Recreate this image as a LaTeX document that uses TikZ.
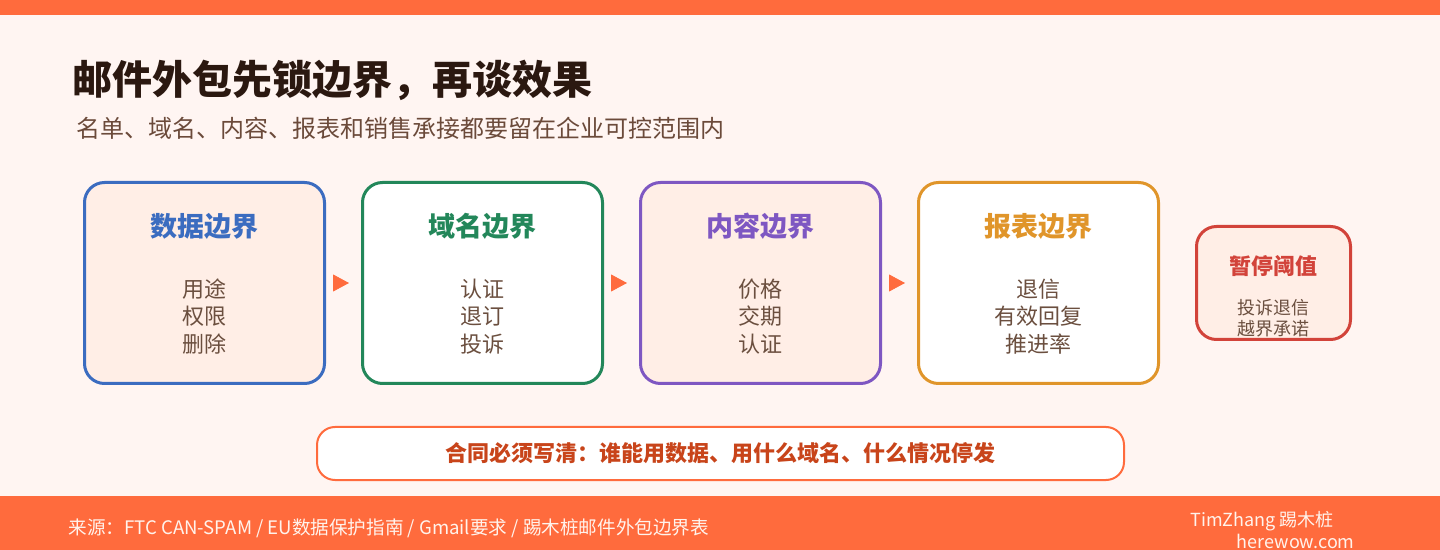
\documentclass[tikz,border=0pt]{standalone}
\usepackage{fontspec}
\setmainfont{Noto Sans CJK SC}
\definecolor{accent}{HTML}{FF6B3D}
\definecolor{paper}{HTML}{FFF5F2}
\definecolor{peach}{HTML}{FFEEE6}
\definecolor{titleink}{HTML}{2B1810}
\definecolor{subink}{HTML}{6B4A3A}
\definecolor{itemink}{HTML}{6B4F3F}
\definecolor{databue}{HTML}{3B6CC0}
\definecolor{domaingreen}{HTML}{23875A}
\definecolor{contentpurple}{HTML}{7E57C2}
\definecolor{reportamber}{HTML}{E0952A}
\definecolor{stopred}{HTML}{D2433A}
\definecolor{ruleink}{HTML}{C8441A}
\definecolor{footink}{HTML}{FFF3EC}
\usetikzlibrary{arrows.meta,positioning}

\begin{document}
\begin{tikzpicture}[x=0.5pt,y=-0.5pt,
  stage/.style={rectangle, draw, line width=1.5pt, rounded corners=10pt, minimum width=120pt, minimum height=100.5pt, inner sep=0pt},
  head/.style={font=\fontsize{13.5}{15}\selectfont\bfseries, inner sep=0pt},
  items/.style={align=center, text=itemink, font=\fontsize{11}{13.75}\selectfont, inner sep=0pt},
  flow/.style={-{Triangle[length=8pt,width=8.5pt]}, draw=accent, fill=accent, shorten <=3.5pt, shorten >=6pt},
  foot/.style={text=footink, font=\fontsize{9}{10}\selectfont, inner sep=0pt},
  node distance=17.5pt]
\useasboundingbox (0,0) rectangle (1440,550);
\fill[paper] (0,0) rectangle (1440,550);
\fill[accent] (0,0) rectangle (1440,15);
\fill[accent] (0,496) rectangle (1440,550);

% heading
\node[anchor=west, inner sep=0pt, text=titleink, font=\fontsize{20}{24}\selectfont\bfseries] (title) at (72,80) {邮件外包先锁边界，再谈效果};
\node[anchor=west, inner sep=0pt, text=subink, font=\fontsize{12}{14}\selectfont] (subtitle) at (76,128) {名单、域名、内容、报表和销售承接都要留在企业可控范围内};

% four boundaries
\node[stage, draw=databue, fill=peach] (data) at (204.5,283) {};
\node[stage, draw=domaingreen, fill=white, right=of data] (domain) {};
\node[stage, draw=contentpurple, fill=peach, right=of domain] (content) {};
\node[stage, draw=reportamber, fill=white, right=of content] (report) {};
\node[stage, draw=stopred, fill=peach, right=of report, minimum width=77pt, minimum height=56.5pt] (stop) {};

\node[head, text=databue] (datahead) at ([yshift=-22.5pt]data.north) {数据边界};
\node[items] (datalist) at ([yshift=-16.75pt]data.center) {用途\\权限\\删除};
\node[head, text=domaingreen] (domainhead) at ([yshift=-22.5pt]domain.north) {域名边界};
\node[items] (domainlist) at ([yshift=-16.75pt]domain.center) {认证\\退订\\投诉};
\node[head, text=contentpurple] (contenthead) at ([yshift=-22.5pt]content.north) {内容边界};
\node[items] (contentlist) at ([yshift=-16.75pt]content.center) {价格\\交期\\认证};
\node[head, text=reportamber] (reporthead) at ([yshift=-22.5pt]report.north) {报表边界};
\node[items] (reportlist) at ([yshift=-16.75pt]report.center) {退信\\有效回复\\推进率};
\node[head, text=stopred, font=\fontsize{11}{13}\selectfont\bfseries] (stophead) at ([yshift=8.5pt]stop.center) {暂停阈值};
\node[items, font=\fontsize{9}{10.5}\selectfont] (stoplist) at ([yshift=-17.75pt]stop.center) {投诉退信\\越界承诺};

\draw[flow] (data) -- (domain);
\draw[flow] (domain) -- (content);
\draw[flow] (content) -- (report);

% contract line
\node[draw=accent, fill=white, line width=1pt, rounded corners=9pt, minimum width=403.5pt, minimum height=26.5pt, text=ruleink, font=\fontsize{11}{13}\selectfont\bfseries] (contract) at (720.5,453.5) {合同必须写清：谁能用数据、用什么域名、什么情况停发};

% footer
\node[foot, anchor=west, font=\fontsize{9.3}{10}\selectfont] (source) at (68,528) {来源：FTC CAN-SPAM / EU数据保护指南 / Gmail要求 / 踢木桩邮件外包边界表};
\node[foot, anchor=west] (author) at (1190,521) {TimZhang 踢木桩};
\node[foot, anchor=east] (site) at (1355,541) {herewow.com};
\end{tikzpicture}
\end{document}
